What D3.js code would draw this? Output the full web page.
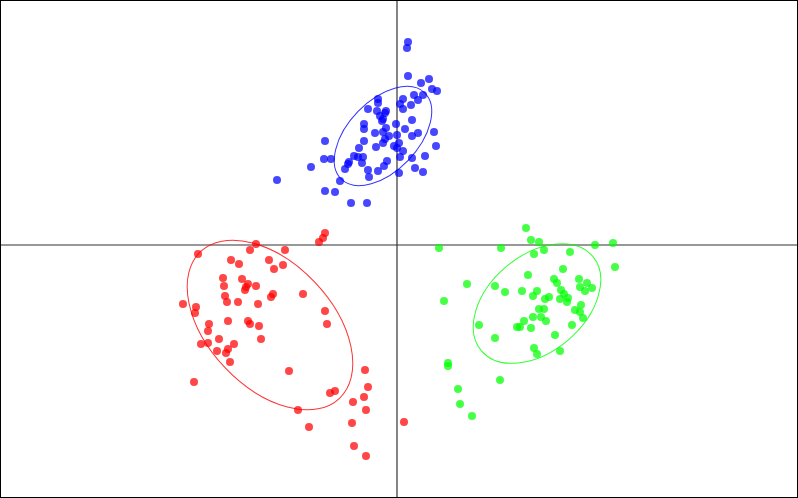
<!DOCTYPE html>
<html><head><meta charset="utf-8">
<script src="https://cdn.jsdelivr.net/npm/d3@7"></script>
<style>html,body{margin:0;padding:0;background:#fff;}svg{display:block;}</style>
</head><body>
<script>
const groups = ["blue","red","green"];
const groupColors = ["#0000ff","#ff0000","#00ff00"];
const blueX = [0.11,0.10,0.11,0.24,0.32,0.35,0.40,0.26,0.17,0.21,0.06,0.03,0.06,0.14,-0.19,-0.19,-0.29,-0.20,-0.11,-0.12,-0.17,-0.15,-0.14,0.15,-0.33,-0.33,-0.11,-0.01,0.08,-0.22,-0.14,-0.08,0.00,0.15,0.21,0.37,-0.72,-0.33,-0.12,-0.14,0.02,-0.03,-0.21,-0.38,0.00,0.06,0.39,0.03,0.15,0.28,-0.73,-0.66,-0.43,-0.39,-0.34,-0.48,-0.49,-0.35,-0.10,-0.13,-0.52,-0.29,-0.19,-0.86,-0.28,0.02,0.18,0.26,-0.57,-1.20,-0.72,-0.62,-0.46,-0.30];
const blueY = [2.03,1.97,1.69,1.62,1.66,1.56,1.54,1.50,1.50,1.45,1.46,1.41,1.36,1.40,1.46,1.42,1.36,1.34,1.34,1.32,1.29,1.24,1.26,1.25,1.21,1.16,1.17,1.21,1.16,1.12,1.13,1.09,1.10,1.09,1.12,1.13,1.04,1.04,1.06,1.02,1.02,0.99,0.98,0.97,0.97,0.94,0.99,0.88,0.87,0.89,0.86,0.86,0.89,0.88,0.88,0.83,0.81,0.82,0.84,0.79,0.76,0.75,0.74,0.78,0.68,0.72,0.77,0.73,0.64,0.65,0.54,0.53,0.42,0.42];
const redX = [-0.72,-0.74,-0.78,-1.99,-1.41,-1.47,-1.12,-1.66,-1.58,-1.28,-1.23,-1.14,-1.74,-1.73,-1.55,-1.49,-1.51,-1.52,-1.41,-1.24,-1.26,-0.94,-1.72,-1.70,-1.59,-1.39,-2.14,-2.01,-2.02,-0.72,-0.70,-1.69,-1.49,-1.47,-1.38,-1.88,-1.89,-1.78,-1.36,-1.96,-1.89,-1.63,-1.69,-1.80,-1.71,-1.67,-1.08,-2.03,-0.32,-0.62,-0.67,-0.29,-0.33,-0.44,-0.31,-0.99,-0.88,-0.45,0.07,-0.43,-0.31];
const redY = [0.12,0.07,0.03,-0.09,0.01,-0.05,-0.05,-0.15,-0.19,-0.15,-0.24,-0.20,-0.33,-0.41,-0.34,-0.39,-0.42,-0.45,-0.41,-0.49,-0.52,-0.49,-0.51,-0.57,-0.57,-0.59,-0.59,-0.62,-0.68,-0.66,-0.79,-0.76,-0.76,-0.79,-0.81,-0.79,-0.86,-0.94,-0.94,-0.99,-0.98,-0.99,-1.04,-1.06,-1.08,-1.17,-1.26,-1.37,-1.25,-1.46,-1.48,-1.42,-1.52,-1.57,-1.65,-1.65,-1.82,-1.78,-1.77,-2.01,-2.11];
const greenX = [1.29,1.34,1.42,0.42,1.04,1.37,1.47,1.73,1.98,2.16,2.18,1.66,1.31,0.70,0.98,1.08,1.57,1.60,1.82,1.90,1.83,1.88,1.95,1.25,1.40,1.36,1.48,1.52,1.64,1.67,1.63,1.71,1.70,0.47,1.42,1.47,1.84,1.78,1.83,1.86,1.36,1.44,1.49,1.27,0.82,1.20,1.23,1.34,1.75,0.98,1.58,1.37,1.40,1.63,0.51,0.51,1.03,0.61,0.63,0.75];
const greenY = [0.17,0.05,0.03,-0.03,-0.03,-0.09,-0.05,-0.07,0.00,0.02,-0.22,-0.24,-0.30,-0.39,-0.41,-0.47,-0.34,-0.38,-0.34,-0.38,-0.42,-0.46,-0.43,-0.46,-0.46,-0.51,-0.54,-0.52,-0.45,-0.49,-0.54,-0.53,-0.57,-0.56,-0.64,-0.64,-0.60,-0.65,-0.67,-0.73,-0.72,-0.72,-0.76,-0.76,-0.80,-0.82,-0.82,-0.83,-0.80,-0.93,-0.90,-1.03,-1.09,-1.06,-1.18,-1.21,-1.35,-1.44,-1.59,-1.71];
// ellipses: center x, center y, semi-major, semi-minor, angle (degrees, counter-clockwise)
const ellipseCX = [-0.14,-1.27,1.40];
const ellipseCY = [1.09,-0.80,-0.585];
const ellipseA = [0.60,1.01,0.73];
const ellipseB = [0.35,0.62,0.48];
const ellipseAngle = [46,-46.5,40.4];

const W = 798, H = 498;
const x = d3.scaleLinear().domain([-3.97, 4.01]).range([0, W]);
const y = d3.scaleLinear().domain([2.45, -2.53]).range([0, H]);

const svg = d3.select("body").append("svg").attr("width", W).attr("height", H);

// crosshair axes
svg.append("line").attr("x1", 0).attr("x2", W).attr("y1", y(0)).attr("y2", y(0))
  .attr("stroke", "#333").attr("stroke-width", 1.2);
svg.append("line").attr("y1", 0).attr("y2", H).attr("x1", x(0)).attr("x2", x(0))
  .attr("stroke", "#333").attr("stroke-width", 1.2);

const sets = [[blueX, blueY], [redX, redY], [greenX, greenY]];
sets.forEach((s, gi) => {
  const pts = s[0].map((v, i) => ({x: v, y: s[1][i]}));
  svg.append("g").selectAll("circle").data(pts).join("circle")
    .attr("cx", d => x(d.x)).attr("cy", d => y(d.y)).attr("r", 4)
    .attr("fill", groupColors[gi]).attr("fill-opacity", 0.72);
});

groups.forEach((g, i) => {
  svg.append("ellipse")
    .attr("transform", `translate(${x(ellipseCX[i])},${y(ellipseCY[i])}) rotate(${-ellipseAngle[i]})`)
    .attr("rx", x(ellipseA[i]) - x(0)).attr("ry", y(0) - y(ellipseB[i]))
    .attr("fill", "none").attr("stroke", groupColors[i]).attr("stroke-opacity", 0.8).attr("stroke-width", 1);
});

svg.append("rect").attr("x", 0.5).attr("y", 0.5).attr("width", W - 1).attr("height", H - 1)
  .attr("fill", "none").attr("stroke", "#000").attr("stroke-width", 1);
</script>
</body></html>
